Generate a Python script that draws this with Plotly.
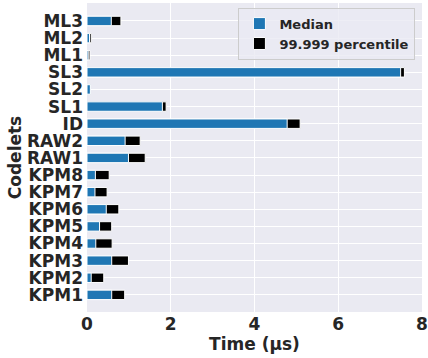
import plotly.graph_objects as go

codelets = ["KPM1", "KPM2", "KPM3", "KPM4", "KPM5", "KPM6", "KPM7", "KPM8",
            "RAW1", "RAW2", "ID", "SL1", "SL2", "SL3", "ML1", "ML2", "ML3"]
median = [0.59, 0.10, 0.59, 0.21, 0.30, 0.46, 0.19, 0.20,
          0.99, 0.91, 4.78, 1.80, 0.08, 7.49, 0.03, 0.06, 0.58]
p99999 = [0.90, 0.40, 0.99, 0.60, 0.59, 0.76, 0.48, 0.53,
          1.39, 1.27, 5.09, 1.89, 0.08, 7.58, 0.07, 0.10, 0.81]
x_ticks = [0, 2, 4, 6, 8]

FONT = "DejaVu Sans"
TXT = "#262626"

fig = go.Figure()
fig.add_trace(go.Bar(
    y=codelets, x=p99999, orientation="h", name="99.999 percentile",
    marker=dict(color="black", line=dict(color="white", width=1)),
    width=0.55,
))
fig.add_trace(go.Bar(
    y=codelets, x=median, orientation="h", name="Median",
    marker=dict(color="#1f77b4", line=dict(color="white", width=1)),
    width=0.55,
))

fig.update_layout(
    width=428, height=358,
    barmode="overlay",
    margin=dict(l=87, r=6, t=3, b=46),
    paper_bgcolor="white",
    plot_bgcolor="#EAEAF2",
    font=dict(family=FONT, color=TXT, size=17),
    legend=dict(
        x=0.452, y=0.985, xanchor="left", yanchor="top",
        traceorder="reversed",
        bgcolor="rgba(234,234,242,0.8)", bordercolor="#CCCCCC", borderwidth=1,
        font=dict(family=FONT, size=13, color=TXT, weight="bold"),
        itemwidth=30,
    ),
    xaxis=dict(
        range=[0, 8], tickmode="array", tickvals=x_ticks, automargin=False,
        showgrid=True, gridcolor="white",
        gridwidth=1, zeroline=False, showline=False, ticks="",
        tickfont=dict(family=FONT, size=17, color=TXT, weight="bold"),
        title=dict(text="Time (µs)", font=dict(family=FONT, size=17, color=TXT, weight="bold"), standoff=2),
    ),
    yaxis=dict(
        range=[-1.0, 17.05], showgrid=True, gridcolor="white", gridwidth=1,
        zeroline=False, showline=False, ticks="", ticklabelstandoff=3, automargin=False,
        tickmode="array", tickvals=codelets, ticktext=codelets,
        tickfont=dict(family=FONT, size=17, color=TXT, weight="bold"),
        title=dict(text="Codelets", font=dict(family=FONT, size=17, color=TXT, weight="bold"), standoff=0),
        categoryorder="array", categoryarray=codelets,
    ),
)

fig.write_html(
    "out.html",
    config={"displayModeBar": False},
    post_script="document.body.style.margin='0';document.body.style.padding='0';document.body.style.overflow='hidden';",
)
